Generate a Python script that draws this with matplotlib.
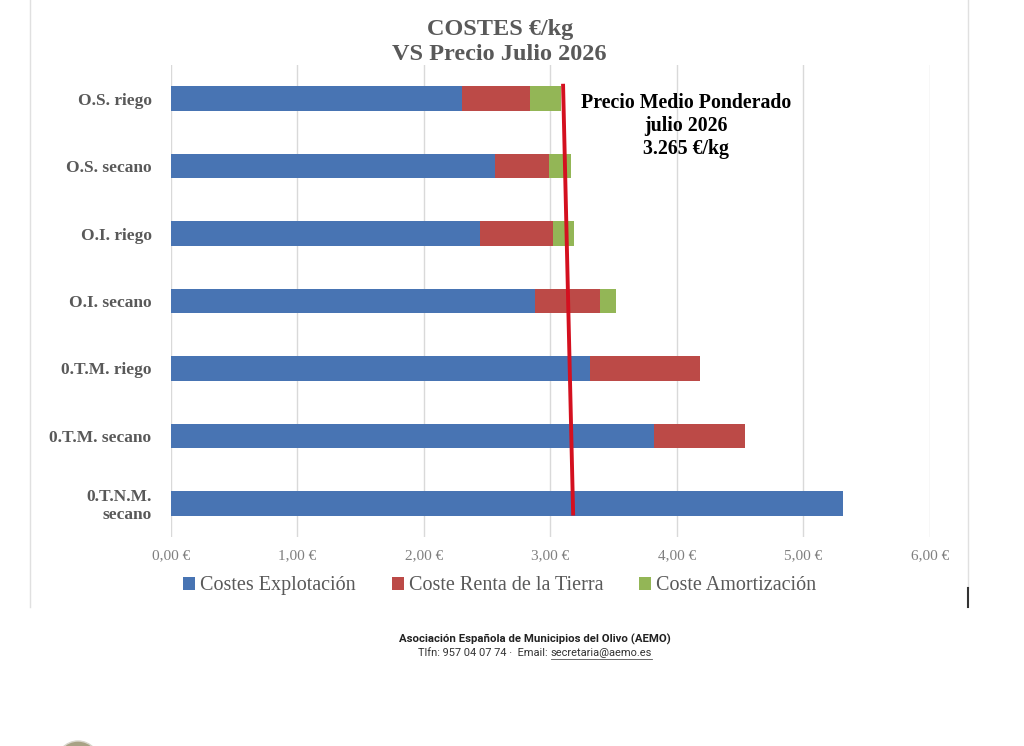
import matplotlib.pyplot as plt
from matplotlib.patches import Ellipse
import numpy as np

# data (€/kg)
categories = ['O.S. riego', 'O.S. secano', 'O.I. riego', 'O.I. secano',
              '0.T.M. riego', '0.T.M. secano', '0.T.N.M.\nsecano']
explotacion = [2.30, 2.56, 2.44, 2.88, 3.31, 3.82, 5.31]
renta = [0.54, 0.43, 0.58, 0.51, 0.87, 0.72, 0.0]
amortizacion = [0.24, 0.17, 0.17, 0.13, 0.0, 0.0, 0.0]
series_names = ['Costes Explotación', 'Coste Renta de la Tierra', 'Coste Amortización']
xticks = [0, 1, 2, 3, 4, 5, 6]
xtick_labels = ['0,00 €', '1,00 €', '2,00 €', '3,00 €', '4,00 €', '5,00 €', '6,00 €']
# hand drawn red price line (x at top and bottom end)
price_line_x = [3.10, 3.18]

colors = ['#4874b3', '#bc4a47', '#93b656']
grey_txt = '#595959'

fig = plt.figure(figsize=(10.24, 7.46), dpi=100)
ax = fig.add_axes([0.167, 0.280, 0.741, 0.633])

y = np.arange(len(categories))
h = 0.36
left = np.zeros(len(categories))
for vals, name, c in zip([explotacion, renta, amortizacion], series_names, colors):
    ax.barh(y, vals, height=h, left=left, color=c, label=name, zorder=3)
    left = left + np.array(vals)

ax.set_ylim(len(categories) - 0.5, -0.5)
ax.set_xlim(0, 6)
ax.set_xticks(xticks)
ax.set_xticklabels(xtick_labels, family='Liberation Serif', fontsize=11, color='#7f7f7f')
ax.set_yticks(y)
ax.set_yticklabels(categories, family='Liberation Serif', fontsize=12.5, fontweight='bold',
                   color=grey_txt, linespacing=1.1)
ax.tick_params(length=0)
ax.tick_params(axis='y', pad=14)
ax.tick_params(axis='x', pad=9)
ax.grid(axis='x', color='#d9d9d9', linewidth=1, zorder=0)
for s in ax.spines.values():
    s.set_visible(False)

# red line for the weighted average price
ax.plot(price_line_x, [-0.22, 6.18], color='#d4101f', linewidth=2.8, zorder=5,
        solid_capstyle='butt')
note = ['Precio Medio Ponderado', 'julio 2026', '3.265 €/kg']
for i, line in enumerate(note):
    ax.text(4.07, 0.07 + i * 0.335, line, ha='center', va='center',
            family='Liberation Serif', fontsize=14.3, fontweight='bold', color='black')

title = ['COSTES €/kg', 'VS Precio Julio 2026']
for i, line in enumerate(title):
    fig.text(0.488, 1 - (29 + i * 26) / 746, line, ha='center', va='center',
             family='Liberation Serif', fontsize=17.5, fontweight='bold', color=grey_txt)

leg = ax.legend(loc='center', bbox_to_anchor=(0.433, -0.103), ncol=3, frameon=False,
                prop={'family': 'Liberation Serif', 'size': 14.5}, handlelength=0.6,
                handleheight=0.6, handletextpad=0.25, columnspacing=1.8)
for t in leg.get_texts():
    t.set_color(grey_txt)

# page frame lines
fig.add_artist(plt.Line2D([30 / 1024, 30 / 1024], [1, 1 - 607 / 746], color='#e0e0e0', lw=1))
fig.add_artist(plt.Line2D([968 / 1024, 968 / 1024], [1, 1 - 588 / 746], color='#e0e0e0', lw=1))
fig.add_artist(plt.Line2D([968 / 1024, 968 / 1024], [1 - 588 / 746, 1 - 607 / 746], color='#333333', lw=1.5))

# footer
fig.text(0.5225, 1 - 639 / 746, 'Asociación Española de Municipios del Olivo (AEMO)', ha='center',
         va='center', family='Roboto', fontsize=8.2, fontweight='bold', color='#222222')
t1 = fig.text(0.5225, 1 - 653 / 746, 'Tlfn: 957 04 07 74 ·  Email: secretaria@aemo.es', ha='center',
              va='center', family='Roboto', fontsize=7.9, color='#333333', alpha=0)
fig.canvas.draw()
r = fig.canvas.get_renderer()
bb = t1.get_window_extent(r)
x0 = bb.x0 / fig.bbox.width
ta = fig.text(x0, 1 - 653 / 746, 'Tlfn: 957 04 07 74 ·  Email: ', ha='left', va='center',
              family='Roboto', fontsize=7.9, color='#333333')
bba = ta.get_window_extent(r)
tb = fig.text(bba.x1 / fig.bbox.width, 1 - 653 / 746, 'secretaria@aemo.es', ha='left', va='center',
              family='Roboto', fontsize=7.9, color='#333333')
bbb = tb.get_window_extent(r)
uy = (bbb.y0 - 1) / fig.bbox.height
fig.add_artist(plt.Line2D([bbb.x0 / fig.bbox.width, bbb.x1 / fig.bbox.width], [uy, uy],
                          color='#555555', lw=0.6))

# logo fragment at the bottom edge
fig.add_artist(Ellipse((78 / 1024, 1 - 766 / 746), 46 / 1024, 50 / 746, transform=fig.transFigure,
                       facecolor='#a8a285', edgecolor='#d8d6cc', lw=1))

fig.savefig('out.png', dpi=100)
